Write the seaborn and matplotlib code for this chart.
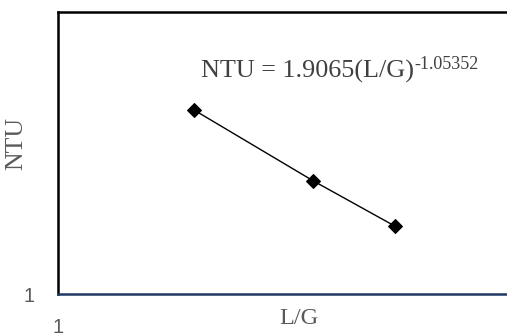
"""
NTU vs L/G on log-log axes with power trendline
"""

import matplotlib
matplotlib.use('Agg')
import matplotlib.pyplot as plt
import seaborn as sns
import pandas as pd

# values
lg_ratio = [2.01, 3.70, 5.63]
ntu = [4.49, 2.52, 1.74]
equation = 'NTU = 1.9065(L/G)'
exponent = '-1.05352'

df = pd.DataFrame({'L/G': lg_ratio, 'NTU': ntu})

sns.set_theme(style='white')
plt.rcParams['font.family'] = ['Liberation Serif', 'DejaVu Serif']

fig = plt.figure(figsize=(5.07, 3.36), dpi=100)
ax = fig.add_axes([58 / 507, 42 / 336, 449 / 507, 282 / 336])

sns.lineplot(data=df, x='L/G', y='NTU', ax=ax, color='black', linewidth=1,
             marker='D', markersize=7, markeredgecolor='black')

ax.set_xscale('log')
ax.set_yscale('log')
ax.set_xlim(1, 10)
ax.set_ylim(1, 10)
ax.set_xticks([1])
ax.set_yticks([1])
ax.set_xticklabels(['1'])
ax.set_yticklabels(['1'])
ax.minorticks_off()
ax.tick_params(axis='both', length=0, labelsize=14.5, labelcolor='#595959')
for lab in ax.get_xticklabels() + ax.get_yticklabels():
    lab.set_family('Liberation Sans')
ax.tick_params(axis='x', pad=17)
ax.tick_params(axis='y', pad=17)

ax.set_xlabel('L/G', fontsize=17.5, color='#595959')
ax.set_ylabel('NTU', fontsize=18.5, color='#595959')
ax.xaxis.set_label_coords((299 - 58) / 449, (294 - 308) / 282)
ax.yaxis.set_label_coords((27 - 58) / 449, (294 - 143) / 282)

for side in ['left', 'top']:
    ax.spines[side].set_color('black')
    ax.spines[side].set_linewidth(1.8)
ax.spines['bottom'].set_color('#1F3864')
ax.spines['bottom'].set_linewidth(1.8)
ax.spines['right'].set_visible(False)

# trendline equation with superscript exponent
t = fig.text(201 / 507, 1 - 78 / 336, equation, fontsize=18.8,
             color='#404040', va='baseline', ha='left')
ax.annotate(exponent, xy=(1, 1), xycoords=t, xytext=(0, 3),
            textcoords='offset points', fontsize=13, color='#404040',
            va='top', ha='left')

fig.savefig('out.png', dpi=100)
